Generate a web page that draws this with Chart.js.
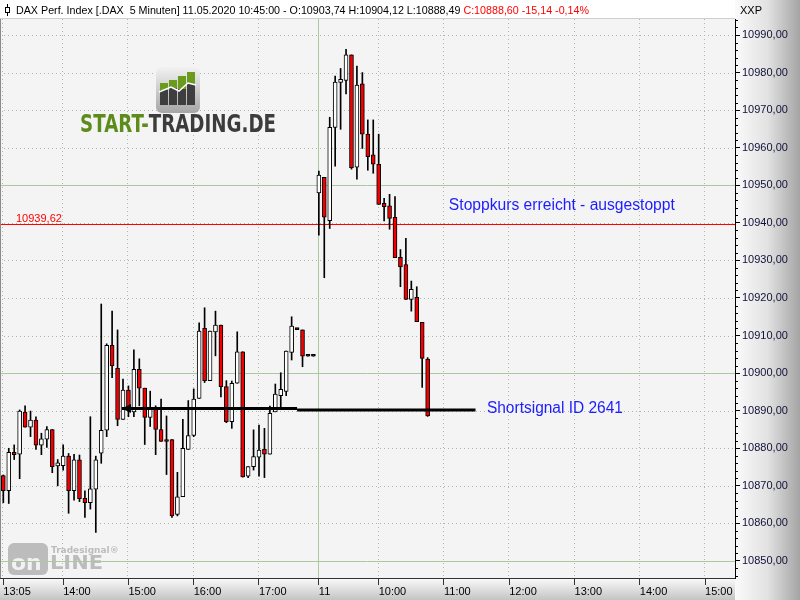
<!DOCTYPE html>
<html lang="de">
<head>
<meta charset="UTF-8">
<title>DAX Perf. Index 5 Minuten</title>
<script src="https://cdn.jsdelivr.net/npm/chart.js"></script>
<style>
  body { margin: 0; background: #f4f4f4; }
  canvas { display: block; }
</style>
</head>
<body>
<canvas id="dax" width="800" height="600"></canvas>
<script>
// 5-Minuten-Kerzen: 08.05. 13:05-17:50, 11.05. 09:05-10:45
const times = [
  '13:05','13:10','13:15','13:20','13:25','13:30','13:35','13:40','13:45','13:50','13:55','14:00',
  '14:05','14:10','14:15','14:20','14:25','14:30','14:35','14:40','14:45','14:50','14:55','15:00',
  '15:05','15:10','15:15','15:20','15:25','15:30','15:35','15:40','15:45','15:50','15:55','16:00',
  '16:05','16:10','16:15','16:20','16:25','16:30','16:35','16:40','16:45','16:50','16:55','17:00',
  '17:05','17:10','17:15','17:20','17:25','17:30','17:35','17:40','17:45','17:50',
  '09:05','09:10','09:15','09:20','09:25','09:30','09:35','09:40','09:45','09:50','09:55','10:00',
  '10:05','10:10','10:15','10:20','10:25','10:30','10:35','10:40','10:45'
];
const opens = [
  10872.7, 10868.7, 10878.9, 10878.4, 10889.6, 10885.6, 10887.5, 10880.8, 10882.4, 10885.0,
  10875.3, 10875.4, 10877.9, 10868.7, 10876.9, 10866.7, 10865.5, 10869.1, 10878.7, 10884.8,
  10907.4, 10901.3, 10887.7, 10895.5, 10889.7, 10901.0, 10896.0, 10888.2, 10890.5, 10885.0,
  10882.2, 10882.3, 10862.4, 10867.1, 10879.7, 10883.4, 10893.3, 10911.9, 10898.0, 10911.0,
  10912.8, 10896.4, 10887.1, 10897.3, 10905.7, 10872.6, 10875.1, 10877.6, 10879.8, 10878.4,
  10889.7, 10894.0, 10895.1, 10905.5, 10911.6, 10911.5, 10904.5, 10904.5,
  10948.0, 10952.1, 10940.6, 10965.4, 10977.4, 10977.9, 10984.7, 10954.8, 10977.0, 10963.6,
  10958.1, 10955.6, 10945.2, 10944.5, 10941.5, 10930.8, 10928.9, 10919.6, 10920.2, 10913.5, 10903.74
];
const highs = [
  10872.9, 10880.0, 10880.9, 10890.2, 10891.3, 10889.9, 10888.4, 10884.0, 10885.8, 10885.0,
  10877.0, 10880.9, 10878.6, 10878.4, 10878.2, 10868.7, 10888.4, 10877.9, 10918.4, 10907.8,
  10916.5, 10911.5, 10898.4, 10896.6, 10906.2, 10903.8, 10896.0, 10895.2, 10891.3, 10893.1,
  10888.6, 10882.3, 10873.6, 10887.7, 10892.7, 10895.8, 10913.4, 10917.4, 10911.2, 10916.5,
  10912.8, 10898.0, 10897.9, 10911.0, 10905.7, 10875.1, 10884.9, 10886.2, 10885.3, 10891.2,
  10897.1, 10900.1, 10905.9, 10915.0, 10911.6, 10911.5, 10904.5, 10904.5,
  10953.8, 10952.1, 10968.1, 10979.1, 10981.1, 10986.2, 10984.7, 10981.7, 10980.0, 10967.4,
  10967.4, 10963.6, 10946.5, 10947.6, 10947.0, 10932.9, 10935.9, 10924.5, 10923.0, 10913.5, 10904.12
];
const lows = [
  10865.5, 10865.3, 10877.0, 10871.9, 10885.6, 10883.1, 10879.7, 10878.3, 10880.2, 10873.5,
  10870.0, 10874.2, 10862.7, 10866.2, 10865.8, 10861.6, 10863.8, 10857.6, 10876.0, 10883.1,
  10898.8, 10886.0, 10887.7, 10888.4, 10888.4, 10891.3, 10881.0, 10885.8, 10878.3, 10881.8,
  10873.0, 10861.6, 10862.0, 10867.1, 10879.7, 10883.1, 10893.3, 10897.5, 10898.0, 10904.6,
  10893.7, 10886.8, 10885.3, 10897.3, 10872.3, 10872.2, 10874.2, 10872.6, 10872.2, 10878.4,
  10889.7, 10890.6, 10894.0, 10903.5, 10911.6, 10901.7, 10904.5, 10904.5,
  10936.7, 10925.4, 10938.5, 10955.1, 10964.9, 10974.3, 10954.3, 10951.6, 10959.8, 10954.0,
  10953.2, 10944.9, 10940.5, 10938.3, 10930.7, 10923.0, 10919.6, 10916.5, 10913.7, 10896.2, 10888.49
];
const closes = [
  10868.7, 10878.9, 10878.3, 10889.9, 10885.6, 10887.5, 10880.8, 10882.5, 10885.0, 10875.1,
  10876.1, 10877.9, 10868.7, 10876.9, 10866.6, 10865.5, 10869.2, 10876.9, 10884.8, 10907.4,
  10901.9, 10887.7, 10895.5, 10891.1, 10901.0, 10896.0, 10888.2, 10890.5, 10885.0, 10881.8,
  10881.8, 10862.0, 10867.1, 10880.0, 10883.4, 10893.1, 10911.2, 10898.0, 10911.2, 10912.8,
  10896.4, 10887.1, 10897.3, 10905.7, 10872.4, 10875.1, 10877.8, 10879.5, 10878.4, 10889.3,
  10894.4, 10895.7, 10905.9, 10912.5, 10911.6, 10904.5, 10904.5, 10904.5,
  10952.7, 10941.5, 10965.4, 10977.5, 10978.2, 10984.7, 10954.7, 10976.7, 10963.6, 10957.6,
  10955.6, 10944.9, 10944.3, 10941.2, 10930.7, 10928.3, 10919.6, 10922.3, 10913.7, 10903.9, 10888.60
];

// Achsen
const xTickIdx = [0, 11, 23, 35, 47, 58, 69, 81, 93, 105, 117, 129];
const xTickLabels = ['13:05', '14:00', '15:00', '16:00', '17:00', '11', '10:00', '11:00', '12:00', '13:00', '14:00', '15:00'];
const dayStartIdx = 58;
const yTicks = [10850, 10860, 10870, 10880, 10890, 10900, 10910, 10920, 10930, 10940, 10950, 10960, 10970, 10980, 10990];

// Markierungen
const stopLevel = 10939.62;
const signalX = [21.8, 54, 86.8];
const signalY = [10890.6, 10890.2];
const notes = ['Stoppkurs erreicht - ausgestoppt', 'Shortsignal ID 2641'];
const noteX = [81.9, 88.9];
const noteY = [10943.4, 10889.4];
const noteW = [226, 136];

const UP = '#ffffff', DOWN = '#f00000', FLAT = '#000000';

function fmt(v) {
  return v.toFixed(2).replace('.', ',');
}

// Hintergrund, Gitter, Logos, Kopfzeile
const decor = {
  id: 'decor',
  beforeDraw(chart) {
    const { ctx, chartArea: a } = chart;
    const W = chart.width, H = chart.height;
    ctx.save();
    ctx.fillStyle = '#f4f4f4';
    ctx.fillRect(0, 0, W, H);
    let g = ctx.createLinearGradient(a.right, 0, W, 0);
    g.addColorStop(0, '#fafafa');
    g.addColorStop(0.5, '#e2e2e2');
    g.addColorStop(1, '#a4a4a4');
    ctx.fillStyle = g;
    ctx.fillRect(a.right, 0, W - a.right, H);
    g = ctx.createLinearGradient(0, a.bottom, 0, H);
    g.addColorStop(0, '#fbfbfb');
    g.addColorStop(1, '#c4c4c4');
    ctx.fillStyle = g;
    ctx.fillRect(0, a.bottom, a.right, H - a.bottom);
    ctx.fillStyle = '#ffffff';
    ctx.fillRect(0, 0, a.right, a.top);
    ctx.strokeStyle = '#cfcfcf';
    ctx.beginPath();
    ctx.moveTo(0, a.top - 0.5);
    ctx.lineTo(a.right, a.top - 0.5);
    ctx.stroke();
    ctx.restore();
  },
  beforeDatasetsDraw(chart) {
    const { ctx, chartArea: a, scales: { x, y } } = chart;
    ctx.save();
    ctx.beginPath();
    ctx.rect(a.left, a.top, a.right - a.left, a.bottom - a.top);
    ctx.clip();

    // gepunktete Linien
    ctx.strokeStyle = '#a6bca6';
    ctx.lineWidth = 1;
    ctx.setLineDash([1, 3]);
    yTicks.forEach(v => {
      if (v % 50 === 0) return;
      const py = Math.round(y.getPixelForValue(v)) + 0.5;
      ctx.beginPath(); ctx.moveTo(a.left, py); ctx.lineTo(a.right, py); ctx.stroke();
    });
    xTickIdx.forEach(i => {
      if (i === dayStartIdx) return;
      const px = Math.round(x.getPixelForValue(i)) - 0.5;
      ctx.beginPath(); ctx.moveTo(px, a.top); ctx.lineTo(px, a.bottom); ctx.stroke();
    });
    ctx.setLineDash([]);

    drawLogo(ctx);
    drawWatermark(ctx);

    // durchgezogene Linien
    ctx.strokeStyle = '#aac8a2';
    yTicks.forEach(v => {
      if (v % 50 !== 0) return;
      const py = Math.round(y.getPixelForValue(v)) + 0.5;
      ctx.beginPath(); ctx.moveTo(a.left, py); ctx.lineTo(a.right, py); ctx.stroke();
    });
    const dx = Math.round(x.getPixelForValue(dayStartIdx)) - 0.5;
    ctx.beginPath(); ctx.moveTo(dx, a.top); ctx.lineTo(dx, a.bottom); ctx.stroke();

    // Stoppkurs
    const sy = Math.round(y.getPixelForValue(stopLevel)) + 0.5;
    ctx.strokeStyle = '#ff0000';
    ctx.beginPath(); ctx.moveTo(a.left, sy); ctx.lineTo(a.right, sy); ctx.stroke();
    ctx.fillStyle = '#ff0000';
    ctx.font = '11px "Liberation Sans", Arial, sans-serif';
    ctx.textBaseline = 'alphabetic';
    ctx.fillText(fmt(stopLevel), a.left + 16, sy - 3);

    // linker Rand
    ctx.strokeStyle = '#8a8a8a';
    ctx.beginPath(); ctx.moveTo(a.left + 0.5, a.top); ctx.lineTo(a.left + 0.5, a.bottom); ctx.stroke();
    ctx.restore();
  },
  afterDatasetsDraw(chart) {
    const { ctx, chartArea: a, scales: { x, y } } = chart;
    ctx.save();
    // Pfeil am Signal
    const ax = x.getPixelForValue(signalX[0]);
    const ay = y.getPixelForValue(signalY[0]);
    ctx.fillStyle = '#000';
    ctx.beginPath();
    ctx.moveTo(ax, ay);
    ctx.lineTo(ax + 9, ay - 4.5);
    ctx.lineTo(ax + 9, ay + 4.5);
    ctx.closePath();
    ctx.fill();

    ctx.fillStyle = '#1c1cff';
    ctx.font = '16px "Liberation Sans", Arial, sans-serif';
    notes.forEach((t, i) => {
      ctx.save();
      ctx.translate(x.getPixelForValue(noteX[i]), y.getPixelForValue(noteY[i]));
      ctx.scale(noteW[i] / ctx.measureText(t).width, 1);
      ctx.fillText(t, 0, 0);
      ctx.restore();
    });

    // kleine Skalenstriche rechts
    ctx.strokeStyle = '#000';
    for (let v = 10846; v <= 10994; v += 2) {
      if (v % 10 === 0) continue;
      const py = Math.round(y.getPixelForValue(v)) + 0.5;
      ctx.beginPath(); ctx.moveTo(a.right, py); ctx.lineTo(a.right + 3, py); ctx.stroke();
    }

    // Kopfzeile
    const head1 = 'DAX Perf. Index [.DAX  5 Minuten] 11.05.2020 10:45:00 - O:10903,74 H:10904,12 L:10888,49 ';
    const head2 = 'C:10888,60 -15,14 -0,14%';
    ctx.font = '11px "Liberation Sans", Arial, sans-serif';
    const w1 = ctx.measureText(head1).width;
    const w2 = ctx.measureText(head2).width;
    const k = 573 / (w1 + w2);
    ctx.save();
    ctx.translate(16, 14);
    ctx.scale(k, 1);
    ctx.fillStyle = '#000';
    ctx.fillText(head1, 0, 0);
    ctx.fillStyle = '#ff0000';
    ctx.fillText(head2, w1, 0);
    ctx.restore();
    ctx.fillStyle = '#000';
    ctx.fillText('XXP', a.right + 5, 14);
    ctx.strokeStyle = '#000';
    ctx.beginPath(); ctx.moveTo(7.5, 4); ctx.lineTo(7.5, 16); ctx.stroke();
    ctx.fillStyle = '#fff';
    ctx.fillRect(5.5, 7.5, 4, 5);
    ctx.strokeRect(5.5, 7.5, 4, 5);
    ctx.restore();
  }
};

function drawLogo(ctx) {
  ctx.save();
  const g = ctx.createLinearGradient(0, 67, 0, 113);
  g.addColorStop(0, '#f2f2f2');
  g.addColorStop(1, '#a6a6a6');
  ctx.fillStyle = g;
  ctx.beginPath();
  ctx.roundRect(156, 67, 44, 46, 6);
  ctx.fill();
  const bx = [160, 169, 178, 187], bTop = [83, 80, 76, 72], bMid = [90, 88, 89, 84];
  bx.forEach((b, i) => {
    ctx.fillStyle = '#6a9b1c';
    ctx.fillRect(b, bTop[i], 8, bMid[i] - bTop[i]);
    ctx.fillStyle = '#3e3e3e';
    ctx.fillRect(b, bMid[i], 8, 105 - bMid[i]);
  });
  ctx.strokeStyle = '#ffffff';
  ctx.lineWidth = 1.5;
  ctx.beginPath();
  ctx.moveTo(159, 92); ctx.lineTo(171, 87); ctx.lineTo(179, 91); ctx.lineTo(188, 83); ctx.lineTo(196, 85);
  ctx.stroke();

  ctx.font = 'bold 24px "DejaVu Sans", sans-serif';
  const t1 = 'START-', t2 = 'TRADING.DE';
  const w1 = ctx.measureText(t1).width, w2 = ctx.measureText(t2).width;
  ctx.translate(80, 132);
  ctx.scale(196 / (w1 + w2), 1);
  ctx.fillStyle = '#5e8c1c';
  ctx.fillText(t1, 0, 0);
  ctx.fillStyle = '#3c3c3c';
  ctx.fillText(t2, w1, 0);
  ctx.restore();
}

function drawWatermark(ctx) {
  ctx.save();
  ctx.fillStyle = '#bcbcbc';
  ctx.beginPath();
  ctx.roundRect(8, 543, 40, 32, 6);
  ctx.fill();
  ctx.font = 'bold 22px "DejaVu Sans", sans-serif';
  ctx.fillStyle = '#f2f2f2';
  ctx.fillText('on', 11, 570);
  ctx.fillStyle = '#bcbcbc';
  ctx.font = 'bold 20px "DejaVu Sans", sans-serif';
  ctx.save();
  ctx.translate(50, 569);
  ctx.scale(53 / ctx.measureText('LINE').width, 1);
  ctx.fillText('LINE', 0, 0);
  ctx.restore();
  ctx.font = 'bold 9px "DejaVu Sans", sans-serif';
  ctx.fillText('Tradesignal\u00ae', 51, 553);
  ctx.restore();
}

const bodies = times.map((t, i) => ({ x: i, y: [opens[i], closes[i]] }));
const wicks = times.map((t, i) => ({ x: i, y: [lows[i], highs[i]] }));

function bodyColor(c) {
  const o = opens[c.dataIndex], cl = closes[c.dataIndex];
  if (o === cl) return FLAT;
  return cl < o ? DOWN : UP;
}

new Chart(document.getElementById('dax'), {
  type: 'bar',
  data: {
    datasets: [
      {
        type: 'line',
        data: [{ x: signalX[0], y: signalY[0] }, { x: signalX[1], y: signalY[0] }],
        borderColor: '#000', borderWidth: 3, pointRadius: 0, order: -2
      },
      {
        type: 'line',
        data: [{ x: signalX[1], y: signalY[1] }, { x: signalX[2], y: signalY[1] }],
        borderColor: '#000', borderWidth: 3, pointRadius: 0, order: -2
      },
      {
        label: 'Kerzen',
        data: bodies,
        backgroundColor: bodyColor,
        borderColor: '#000',
        borderWidth: 1,
        borderSkipped: false,
        barThickness: 4,
        minBarLength: 2,
        grouped: false,
        order: 0
      },
      {
        label: 'Dochte',
        data: wicks,
        backgroundColor: '#000',
        barThickness: 1,
        grouped: false,
        order: 1
      }
    ]
  },
  options: {
    responsive: false,
    animation: false,
    layout: { padding: { top: 19, left: 0, right: 0, bottom: 0 } },
    plugins: { legend: { display: false }, tooltip: { enabled: false } },
    scales: {
      x: {
        type: 'linear',
        min: -0.61,
        max: 134.5,
        offset: false,
        afterBuildTicks: s => { s.ticks = xTickIdx.map(v => ({ value: v })); },
        afterFit: s => { s.height = 22; },
        grid: { drawOnChartArea: false, offset: false, tickLength: 7, color: '#333' },
        border: { color: '#333' },
        ticks: {
          callback: (v, i) => xTickLabels[i],
          autoSkip: false,
          maxRotation: 0,
          align: 'start',
          padding: 0,
          color: '#000',
          font: { family: '"Liberation Sans", Arial, sans-serif', size: 11 }
        }
      },
      y: {
        position: 'right',
        min: 10845.47,
        max: 10994.26,
        afterBuildTicks: s => { s.ticks = yTicks.map(v => ({ value: v })); },
        afterFit: s => { s.width = 65; },
        grid: { drawOnChartArea: false, tickLength: 5, color: '#000' },
        border: { color: '#000' },
        ticks: {
          callback: v => fmt(v),
          padding: 2,
          color: '#101038',
          font: { family: '"Liberation Sans", Arial, sans-serif', size: 11 }
        }
      }
    }
  },
  plugins: [decor]
});
</script>
</body>
</html>
